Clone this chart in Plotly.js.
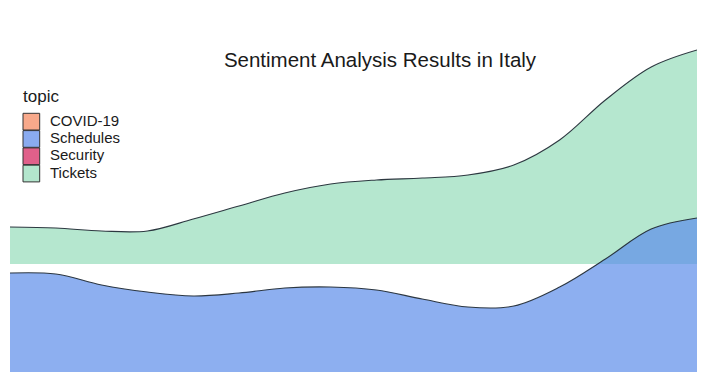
<!DOCTYPE html>
<html>
<head>
<meta charset="utf-8">
<script src="https://cdn.plot.ly/plotly-3.0.1.min.js"></script>
<style>html,body{margin:0;padding:0;background:#fff;}#chart{width:717px;height:377px;}</style>
</head>
<body>
<div id="chart"></div>
<script>
// Time steps (evenly spaced along the x axis)
const steps = [0, 1, 2, 3, 4, 5, 6, 7, 8, 9, 10, 11, 12, 13, 14, 15];
// Band thickness for each topic
const ticketsValues   = [37, 36, 33, 33, 45, 58, 71, 80, 84, 86, 89, 99, 124, 164, 197, 214];
const schedulesValues = [99, 98, 87, 80, 76, 79, 84, 85, 82, 73, 65, 66, 85, 113, 143, 154];
// Legend categories
const legendTitle = "topic";
const topics = ["COVID-19", "Schedules", "Security", "Tickets"];
const topicColors = ["#F8A98B", "#8AABF0", "#E0608A", "#B3E6CD"];

const W = 717, H = 377;
const M = {l: 10, r: 20, t: 40, b: 5};
const PW = W - M.l - M.r, PH = H - M.t - M.b;
const ticketsBase = 108; // vertical offset of the Tickets band
const ticketsTop = ticketsValues.map(v => v + ticketsBase);
const baseT = steps.map(() => ticketsBase);
const baseS = steps.map(() => 0);
const edge = "rgba(35,45,55,0.95)";

const traces = [
  {x: steps, y: baseT, mode: "lines", line: {width: 0}, showlegend: false, hoverinfo: "skip"},
  {x: steps, y: ticketsTop, mode: "lines", fill: "tonexty", fillcolor: "#B5E7CF",
   line: {color: edge, width: 1.1, shape: "spline", smoothing: 1}, showlegend: false},
  {x: steps, y: baseS, mode: "lines", line: {width: 0}, showlegend: false, hoverinfo: "skip"},
  {x: steps, y: schedulesValues, mode: "lines", fill: "tonexty", fillcolor: "rgba(92,141,234,0.7)",
   line: {color: edge, width: 1.1, shape: "spline", smoothing: 1}, showlegend: false}
];

// Custom legend (ggplot-like: tight key spacing); pixel -> paper (plot area) fraction
const px = v => (v - M.l) / PW, py = v => 1 - (v - M.t) / PH;
const annotations = [{
  text: legendTitle, xref: "paper", yref: "paper", x: px(21), y: py(96),
  xanchor: "left", yanchor: "middle", showarrow: false, font: {size: 17, color: "#1a1a1a"}
}];
const shapes = [];
const keyTop = 113.3, keyStep = 17.3, keySize = 16.7;
topics.forEach((t, i) => {
  const top = keyTop + i * keyStep;
  shapes.push({type: "rect", xref: "paper", yref: "paper",
    x0: px(23), x1: px(23 + keySize), y0: py(top + keySize), y1: py(top),
    fillcolor: topicColors[i], line: {color: "#333", width: 1}});
  annotations.push({text: t, xref: "paper", yref: "paper", x: px(49), y: py(top + keySize / 2 - 1.5),
    xanchor: "left", yanchor: "middle", showarrow: false, borderpad: 0,
    font: {size: 15, color: "#1a1a1a"}});
});

const layout = {
  width: W, height: H,
  margin: M,
  paper_bgcolor: "#fff", plot_bgcolor: "#fff",
  font: {family: "Liberation Sans, Arial, sans-serif", color: "#1a1a1a"},
  title: {text: "Sentiment Analysis Results in Italy", font: {size: 20.5, color: "#1a1a1a"},
          x: 380/W, xanchor: "center", xref: "container",
          y: 1 - 60/H, yanchor: "middle", yref: "container"},
  xaxis: {range: [0, 15], visible: false, showgrid: false, zeroline: false, fixedrange: true},
  yaxis: {range: [0, 332], visible: false, showgrid: false, zeroline: false, fixedrange: true},
  showlegend: false,
  annotations: annotations,
  shapes: shapes
};
Plotly.newPlot("chart", traces, layout, {displayModeBar: false, staticPlot: true});
</script>
</body>
</html>
